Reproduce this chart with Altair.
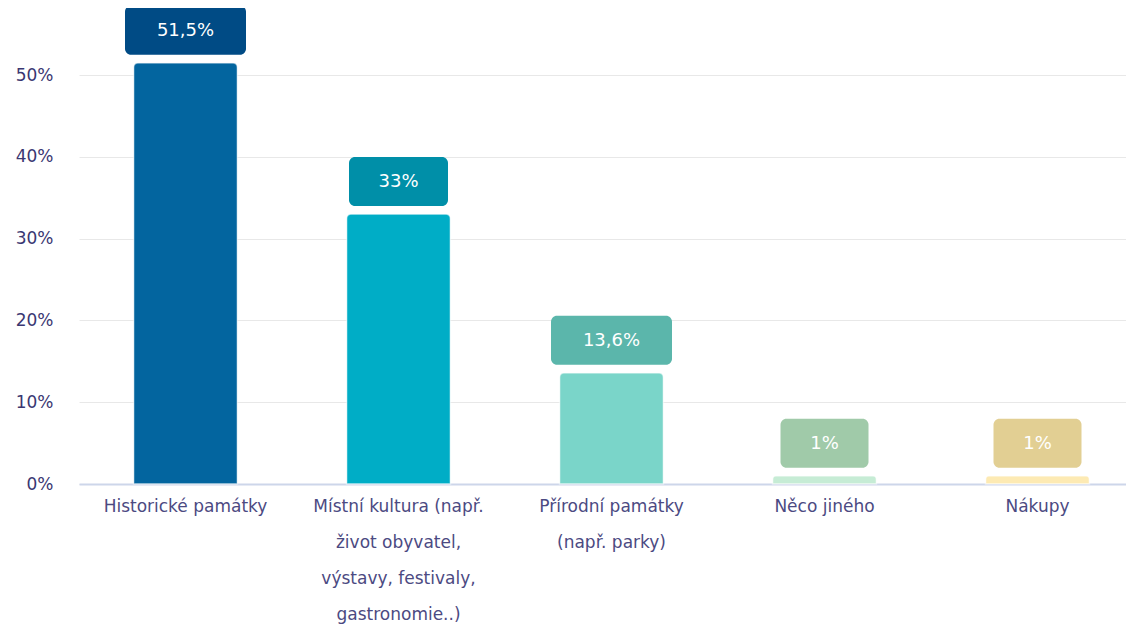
import altair as alt
import pandas as pd

categories = [
    "Historické památky",
    "Místní kultura (např.|život obyvatel,|výstavy, festivaly,|gastronomie..)",
    "Přírodní památky|(např. parky)",
    "Něco jiného",
    "Nákupy",
]
values = [51.5, 33, 13.6, 1, 1]
value_labels = ["51,5%", "33%", "13,6%", "1%", "1%"]
bar_colors = ["#03659f", "#00adc6", "#7ad5c9", "#c6ecd5", "#fdeab3"]
box_colors = ["#004b85", "#008fa8", "#5bb6ab", "#a0caa9", "#e2cf93"]
y_ticks = [0, 10, 20, 30, 40, 50]

df = pd.DataFrame({"cat": categories, "val": values, "lbl": value_labels})

FONT = "DejaVu Sans"
x_enc = alt.X(
    "cat:N",
    sort=categories,
    title=None,
    scale=alt.Scale(range=[0, 1065], paddingInner=0, paddingOuter=0),
    axis=alt.Axis(
        labelExpr="split(datum.label, '|')",
        labelAngle=0,
        labelFontSize=17,
        labelColor="#4c4a82",
        labelFont=FONT,
        labelLineHeight=36,
        labelPadding=14,
        labelBaseline="top",
        ticks=False,
        domainColor="#cdd6ea",
        domainWidth=2,
        labelLimit=300,
    ),
)
y_enc = alt.Y(
    "val:Q",
    title=None,
    scale=alt.Scale(domain=[0, 50], nice=False),
    axis=alt.Axis(
        values=y_ticks,
        labelExpr="datum.value + '%'",
        labelFontSize=17,
        labelColor="#3a3772",
        labelFont=FONT,
        labelPadding=26,
        ticks=False,
        domain=False,
        gridColor="#e8e8e8",
        gridWidth=1,
    ),
)

bars = alt.Chart(df).mark_bar(
    width=104,
    cornerRadiusTopLeft=5,
    cornerRadiusTopRight=5,
    stroke="white",
    strokeOpacity=0.45,
    strokeWidth=1.5,
).encode(
    x=x_enc,
    y=y_enc,
    color=alt.Color("cat:N", scale=alt.Scale(domain=categories, range=bar_colors), legend=None),
)

boxes = alt.Chart(df).transform_calculate(
    boxw="66 + 11 * length(datum.lbl)"
).mark_bar(
    cornerRadius=6,
    yOffset=-8,
    y2Offset=-57,
).encode(
    x=alt.X("cat:N", sort=categories),
    y="val:Q",
    y2="val:Q",
    size=alt.Size("boxw:Q", scale=None, legend=None),
    color=alt.Color("cat:N", scale=alt.Scale(domain=categories, range=box_colors), legend=None),
)

texts = alt.Chart(df).mark_text(
    color="white",
    fontSize=18,
    font=FONT,
    dy=-32,
    baseline="middle",
).encode(
    x=alt.X("cat:N", sort=categories),
    y="val:Q",
    text="lbl:N",
)

chart = (
    alt.layer(bars, boxes, texts)
    .resolve_scale(color="independent")
    .properties(
        width=1047,
        height=409,
        autosize=alt.AutoSizeParams(type="none"),
        padding={"left": 71, "top": 67, "right": 0, "bottom": 144},
    )
    .configure_view(stroke=None)
)

chart.save("out.html", embed_options={"renderer": "svg", "actions": False})
